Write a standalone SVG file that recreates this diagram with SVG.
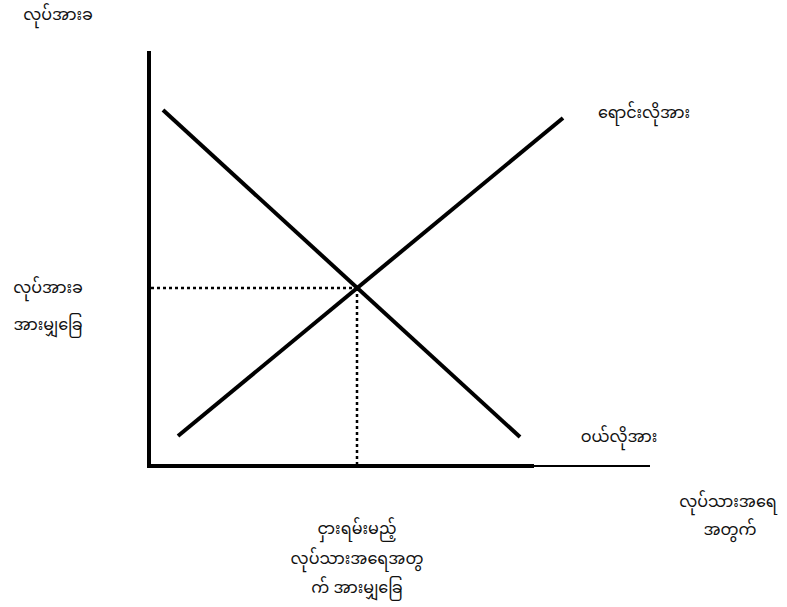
<svg xmlns="http://www.w3.org/2000/svg" width="787" height="607" viewBox="0 0 787 607">
<style>
.t{font-family:"Noto Sans Myanmar","Padauk","Myanmar Text","Noto Sans",sans-serif;font-size:16px;fill:#111;}
.ax{stroke:#000;stroke-width:4;fill:none;}
.cv{stroke:#000;stroke-width:4;fill:none;stroke-linecap:butt;}
.dt{stroke:#000;stroke-width:2.5;stroke-dasharray:3 3;fill:none;}
</style>
<rect width="787" height="607" fill="#fff"/>
<g id="connectors">
<line class="ax" x1="149" y1="51" x2="149" y2="468"/>
<line class="ax" x1="147" y1="466" x2="534" y2="466"/>
<line x1="534" y1="466" x2="650" y2="466" stroke="#000" stroke-width="2"/>
<line class="dt" x1="151" y1="288" x2="357" y2="288"/>
<line class="dt" x1="357" y1="288" x2="357" y2="464"/>
</g>
<g id="demand"><line class="cv" x1="163" y1="110" x2="520" y2="437"/><text class="t" x="619" y="442" text-anchor="middle">ဝယ်လိုအား</text></g>
<g id="supply"><line class="cv" x1="178" y1="436" x2="563" y2="118"/><text class="t" x="644" y="118" text-anchor="middle">ရောင်းလိုအား</text></g>
<g id="y-label"><text class="t" x="58" y="20" text-anchor="middle">လုပ်အားခ</text></g>
<g id="eq-wage"><text class="t" x="48" y="293" text-anchor="middle">လုပ်အားခ</text><text class="t" x="48" y="330" text-anchor="middle">အားမျှခြေ</text></g>
<g id="x-label"><text class="t" x="728" y="507" text-anchor="middle">လုပ်သားအရေ</text><text class="t" x="730" y="535" text-anchor="middle">အတွက်</text></g>
<g id="eq-qty"><text class="t" x="357" y="534" text-anchor="middle">ငှားရမ်းမည့်</text><text class="t" x="357" y="564" text-anchor="middle">လုပ်သားအရေအတွ</text><text class="t" x="357" y="593" text-anchor="middle">က် အားမျှခြေ</text></g>
</svg>
